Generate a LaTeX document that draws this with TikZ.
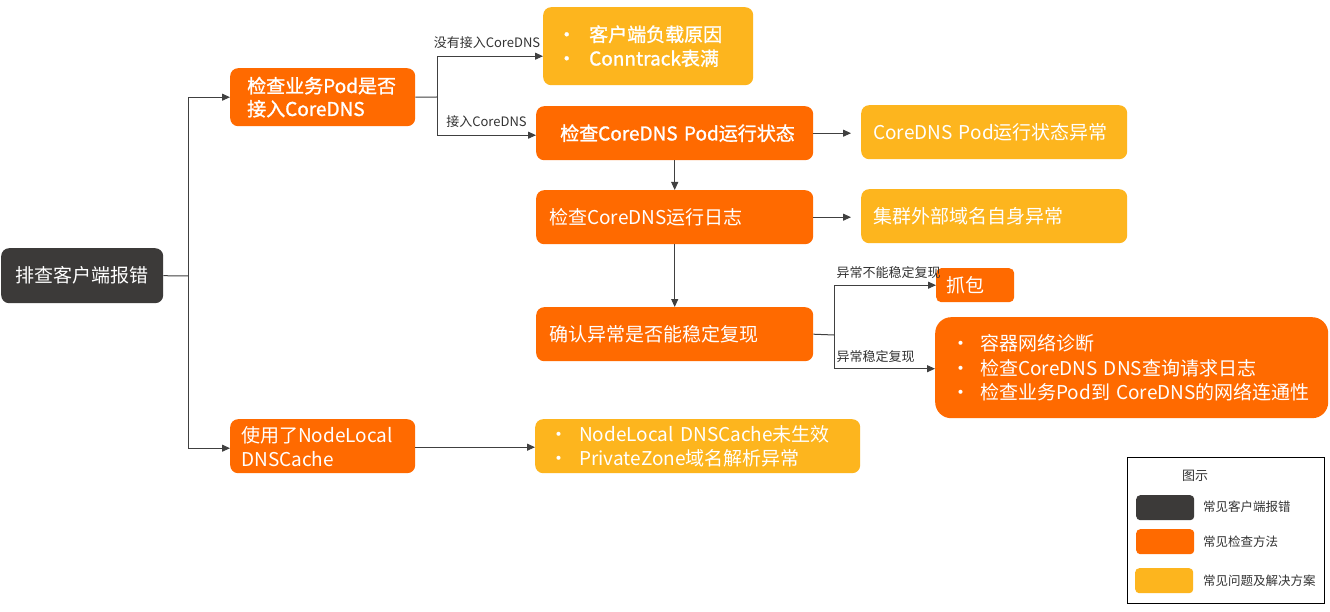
\documentclass[tikz,border=0pt]{standalone}
\usepackage{fontspec}
\setmainfont{Noto Sans CJK SC}
\newfontfamily\semib{Noto Sans CJK SC}[FakeBold=1.3]
\usetikzlibrary{arrows.meta,positioning,calc}
\definecolor{cdark}{HTML}{3C3A39}
\definecolor{corange}{HTML}{FF6A00}
\definecolor{cyellow}{HTML}{FDB51E}
\definecolor{cline}{HTML}{404040}
\newcommand{\bul}[1]{\makebox[#1][l]{•}}
\begin{document}
\begin{tikzpicture}[x=1pt,y=-1pt,
  box/.style={rounded corners=8pt, inner ysep=0pt, anchor=north west, text=white, align=left, font=\fontsize{19}{24}\selectfont},
  conn/.style={draw=cline, line width=1pt},
  arr/.style={conn, -{Triangle[length=8pt,width=7pt]}},
  elab/.style={font=\fontsize{13}{15}\selectfont, text=black!80, inner sep=1pt},
  leg/.style={font=\fontsize{12.5}{14}\selectfont, text=black!80, anchor=west, inner sep=0pt},
  swatch/.style={rounded corners=4pt, anchor=north west, inner sep=0pt, minimum width=58pt, minimum height=25pt}]
\useasboundingbox (0,0) rectangle (1330,612);
\fill[white] (0,0) rectangle (1330,612);

% nodes
\node[box, fill=cdark, inner xsep=0pt, text width=162pt, minimum height=55pt, align=center] (err) at (1,248) {排查客户端报错};
\node[box, fill=corange, inner xsep=17pt, text width=151pt, minimum height=58pt, font=\fontsize{19}{23}\selectfont\semib] (chk) at (230,68) {检查业务Pod是否\\接入CoreDNS};
\node[box, fill=cyellow, inner xsep=14pt, text width=182pt, minimum height=78pt, font=\fontsize{19}{24}\selectfont\semib] (A) at (543,7) {\bul{32pt}客户端负载原因\\\bul{32pt}Conntrack表满};
\node[box, fill=corange, inner xsep=5pt, text width=267pt, minimum height=54pt, font=\fontsize{19}{24}\selectfont\semib] (B) at (536,106) {\hspace*{19pt}检查CoreDNS Pod运行状态};
\node[box, fill=cyellow, inner xsep=12pt, text width=242pt, minimum height=54pt] (C) at (861,105) {CoreDNS Pod运行状态异常};
\node[box, fill=corange, inner xsep=13pt, text width=251pt, minimum height=54pt] (D) at (536,190) {检查CoreDNS运行日志};
\node[box, fill=cyellow, inner xsep=12pt, text width=242pt, minimum height=54pt] (E) at (861,189) {集群外部域名自身异常};
\node[box, fill=corange, inner xsep=13pt, text width=251pt, minimum height=54pt] (F) at (536,307) {确认异常是否能稳定复现};
\node[box, fill=corange, inner xsep=10pt, text width=58pt, minimum height=34pt, rounded corners=5pt] (G) at (936,268) {抓包};
\node[box, fill=corange, inner xsep=16pt, text width=361pt, minimum height=101pt, rounded corners=16pt, font=\fontsize{19}{24.5}\selectfont] (H) at (935,317) {\bul{29pt}容器网络诊断\\\bul{29pt}检查CoreDNS DNS查询请求日志\\\bul{29pt}检查业务Pod到 CoreDNS的网络连通性};
\node[box, fill=corange, inner xsep=11pt, text width=163pt, minimum height=54pt] (I) at (230,419) {使用了NodeLocal\\DNSCache};
\node[box, fill=cyellow, inner xsep=14pt, text width=297pt, minimum height=54pt] (J) at (535,419) {\bul{30pt}NodeLocal DNSCache未生效\\\bul{30pt}PrivateZone域名解析异常};

% connectors
\coordinate (j0) at (188,276);
\draw[conn] (err.east) -- (j0);
\draw[arr] (j0) |- (chk.west);
\draw[arr] (j0) |- ([yshift=-2pt]I.west);

\coordinate (j1) at (437,97);
\draw[conn] (chk.east) -- (j1);
\draw[arr] (j1) |- ([yshift=-10pt]A.west) node[elab, pos=0.75, above, yshift=6pt, xshift=-3pt] {没有接入CoreDNS};
\draw[arr] (j1) |- ([yshift=-2pt]B.west) node[elab, pos=0.75, above, yshift=6pt] {接入CoreDNS};

\draw[arr, shorten >=10pt] (B.east) -- (B.east -| C.west);
\draw[arr, shorten >=10pt] (D.east) -- (D.east -| E.west);
\draw[arr] (B.south) -- (D.north);
\draw[arr] (D.south) -- (F.north);

\coordinate (j2) at (834,335);
\draw[conn] (F.east) -- (j2);
\draw[arr] (j2) |- (G.west) node[elab, pos=0.5, anchor=south west, xshift=1pt, yshift=5pt] {异常不能稳定复现};
\draw[arr] (j2) |- ([yshift=-1pt]H.west) node[elab, pos=0.5, anchor=south west, xshift=1pt, yshift=5pt] {异常稳定复现};

\draw[arr] ([yshift=-1pt]I.east) -- ([yshift=-1pt]J.west);

% legend
\node[draw=black, line width=1pt, anchor=north west, minimum width=197pt, minimum height=146pt, inner sep=0pt] (legend) at (1127,457) {};
\node[font=\fontsize{13}{15}\selectfont, text=black!80] (legtitle) at (1195,476) {图示};
\node[swatch, fill=cdark] (s1) at (1136,495) {};
\node[swatch, fill=corange] (s2) at (1136,529) {};
\node[swatch, fill=cyellow] (s3) at (1135,568) {};
\node[leg] (l1) at (1203,507) {常见客户端报错};
\node[leg] (l2) at (1203,542) {常见检查方法};
\node[leg] (l3) at (1203,581) {常见问题及解决方案};
\end{tikzpicture}
\end{document}
